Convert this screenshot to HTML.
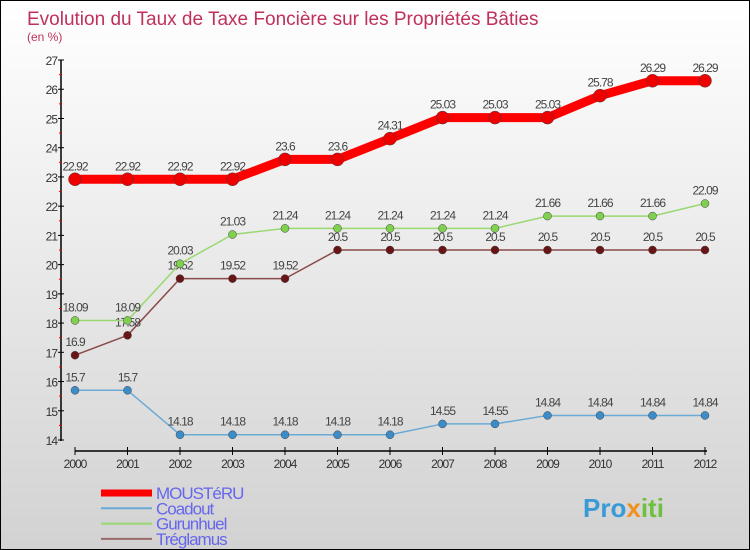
<!DOCTYPE html>
<html><head><meta charset="utf-8"><style>
body{margin:0}
#wrap{width:748px;height:548px;border:1px solid #000;background:linear-gradient(#fff,#d2d2d2);position:relative;overflow:hidden;font-family:"Liberation Sans",sans-serif}
</style></head><body>
<div id="wrap">
<svg id="svg" width="748" height="548" xmlns="http://www.w3.org/2000/svg"></svg>
</div>
<script>
const years=["2000","2001","2002","2003","2004","2005","2006","2007","2008","2009","2010","2011","2012"];
const mousteru=[22.92,22.92,22.92,22.92,23.6,23.6,24.31,25.03,25.03,25.03,25.78,26.29,26.29];
const coadout=[15.7,15.7,14.18,14.18,14.18,14.18,14.18,14.55,14.55,14.84,14.84,14.84,14.84];
const gurunhuel=[18.09,18.09,20.03,21.03,21.24,21.24,21.24,21.24,21.24,21.66,21.66,21.66,22.09];
const treglamus=[16.9,17.58,19.52,19.52,19.52,20.5,20.5,20.5,20.5,20.5,20.5,20.5,20.5];
const yTicks=[14,15,16,17,18,19,20,21,22,23,24,25,26,27];
const NS="http://www.w3.org/2000/svg";
const svg=document.getElementById('svg');
const X=i=>74+i*52.5, Y=v=>439-(v-14)*29.23;
function el(t,a,txt){const e=document.createElementNS(NS,t);for(const k in a)e.setAttribute(k,a[k]);if(txt!==undefined)e.textContent=txt;svg.appendChild(e);return e;}
let t=el('text',{x:26,y:24,fill:'#c0305a','font-size':19},'Evolution du Taux de Taxe Foncière sur les Propriétés Bâties');

t=el('text',{x:26,y:40,fill:'#c0305a','font-size':12},'(en %)');

let a=el('line',{x1:60,y1:59,x2:60,y2:440,stroke:'#000','stroke-width':1.5});

yTicks.forEach(v=>{el('line',{x1:57,y1:Y(v),x2:63,y2:Y(v),stroke:'#000'});
 if(v<27)el('line',{x1:58,y1:Y(v+0.5),x2:61,y2:Y(v+0.5),stroke:'#e00'});
 const l=el('text',{x:56,y:Y(v)+5,'text-anchor':'end','font-size':12,fill:'#333','letter-spacing':-1},v);
 });
a=el('line',{x1:74,y1:450,x2:706,y2:450,stroke:'#000','stroke-width':1.5});

years.forEach((y,i)=>{el('line',{x1:X(i),y1:446,x2:X(i),y2:454,stroke:'#000'});
 const l=el('text',{x:X(i),y:467,'text-anchor':'middle','font-size':12,fill:'#333','letter-spacing':-1},y);
 });
function series(d,col,w,r,name,dot){
 const p=el('polyline',{points:d.map((v,i)=>X(i)+','+Y(v)).join(' '),fill:'none',stroke:col,'stroke-width':w,'stroke-linejoin':'round'});
 
 d.forEach((v,i)=>{const c=el('circle',{cx:X(i),cy:Y(v),r:r,fill:dot,stroke:'#444','stroke-width':0.5});
  
  const l=el('text',{x:X(i),y:Y(v)-9,'text-anchor':'middle','font-size':12,fill:'#444','letter-spacing':-1},v);
  });
}
series(coadout,'#6aaad6',1.5,4,'coadout','#3c8cc8');
series(treglamus,'#8a4a4a',1.5,4,'treglamus','#6a1515');
series(gurunhuel,'#9ad870',1.5,4,'gurunhuel','#80d050');
series(mousteru,'#f00',9,6.5,'mousteru','#e00');
const leg=[['MOUSTéRU','#f00',7],['Coadout','#6aaad6',2],['Gurunhuel','#9ad870',2],['Tréglamus','#9a6a6a',2]];
leg.forEach((g,i)=>{const y=492+i*15.3;
 const l=el('line',{x1:100,y1:y,x2:151,y2:y,stroke:g[1],'stroke-width':g[2]});
 
 const tx=el('text',{x:155,y:y+6,'font-size':17,fill:'#6666ee','letter-spacing':-1},g[0]);
 });
const lg=el('text',{x:582,y:516,'font-size':26,'font-weight':'bold',fill:'#3a9ad8'},'');

[['Pro','#3a9ad8'],['x','#f09020'],['iti','#70c040']].forEach(s=>{const ts=document.createElementNS(NS,'tspan');ts.setAttribute('fill',s[1]);ts.textContent=s[0];lg.appendChild(ts);});
</script>
</body></html>
